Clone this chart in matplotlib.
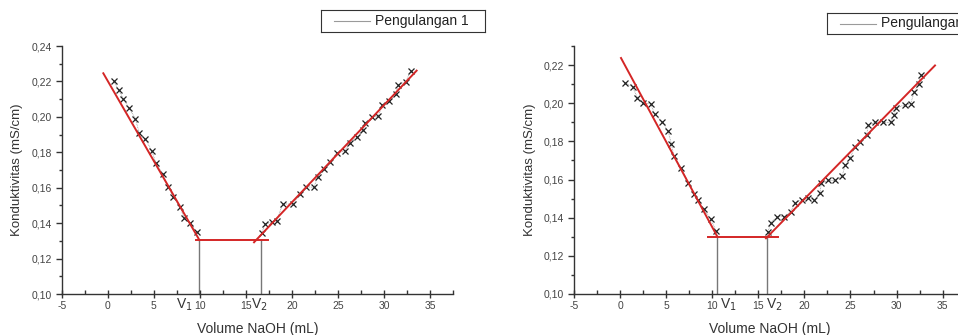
import matplotlib
matplotlib.use("Agg")
import matplotlib.pyplot as plt
from matplotlib.ticker import MultipleLocator, FuncFormatter

plt.rcParams['font.family'] = ['Liberation Sans', 'DejaVu Sans']
plt.rcParams['axes.unicode_minus'] = False

# Pengulangan 1
x1_down = [0.68, 1.19, 1.70, 2.28, 3.0, 3.43, 4.09, 4.77, 5.24, 5.97, 6.59, 7.13, 7.85, 8.32, 8.94, 9.66]
y1_down = [0.220, 0.2152, 0.210, 0.2052, 0.199, 0.1907, 0.1875, 0.181, 0.1738, 0.1677, 0.1602, 0.1546,
           0.1493, 0.1427, 0.1403, 0.1348]
x1_up = [16.72, 17.08, 17.80, 18.35, 19.0, 20.08, 20.88, 21.53, 22.4, 22.8, 23.49, 24.14, 24.86, 25.77,
         26.31, 27.04, 27.69, 27.94, 28.67, 29.39, 29.82, 30.58, 31.27, 31.56, 32.39, 32.9]
y1_up = [0.1342, 0.1395, 0.1405, 0.1414, 0.1508, 0.1508, 0.1565, 0.1606, 0.1602, 0.1662, 0.1704, 0.1747,
         0.1794, 0.181, 0.1854, 0.1884, 0.1926, 0.1967, 0.1997, 0.2005, 0.2067, 0.2091, 0.2129, 0.218,
         0.2199, 0.2261]
fit1_down = ([-0.48, 9.95], [0.2246, 0.1305])
fit1_flat = ([9.59, 17.37], [0.1305, 0.1305])
fit1_up = ([15.89, 33.55], [0.1292, 0.2261])
v1_pengulangan1 = 9.95
v2_pengulangan1 = 16.61

# Pengulangan 2
x2_down = [0.57, 1.37, 1.87, 2.52, 3.32, 3.75, 4.58, 5.23, 5.56, 5.85, 6.65, 7.40, 7.98, 8.45, 9.1, 9.83, 10.41]
y2_down = [0.2106, 0.2085, 0.203, 0.200, 0.1997, 0.1943, 0.1904, 0.1852, 0.1787, 0.1721, 0.166, 0.1584,
           0.1525, 0.1493, 0.1444, 0.1392, 0.1332]
x2_up = [16.05, 16.37, 17.06, 17.78, 18.54, 18.94, 19.74, 20.42, 21.08, 21.69, 21.84, 22.59, 23.35, 24.08,
         24.44, 24.95, 25.49, 26.03, 26.75, 26.94, 27.66, 28.49, 29.36, 29.72, 29.94, 30.88, 31.53, 31.89,
         32.40, 32.61]
y2_up = [0.1327, 0.1374, 0.1406, 0.1406, 0.1432, 0.1479, 0.1493, 0.1502, 0.1493, 0.1532, 0.1581, 0.1595,
         0.1595, 0.1616, 0.1677, 0.1712, 0.1773, 0.1799, 0.1834, 0.1887, 0.1899, 0.1899, 0.1899, 0.1939,
         0.1974, 0.1992, 0.1997, 0.2057, 0.2102, 0.2149]
fit2_down = ([0.10, 10.55], [0.2237, 0.1301])
fit2_flat = ([9.57, 17.17], [0.1301, 0.1301])
fit2_up = ([15.83, 34.17], [0.1292, 0.2198])
v1_pengulangan2 = 10.55
v2_pengulangan2 = 15.98

W, H = 958, 335
fig = plt.figure(figsize=(W / 100, H / 100), dpi=100)

comma = FuncFormatter(lambda v, p: ('%.2f' % v).replace('.', ','))
plain = FuncFormatter(lambda v, p: '%d' % round(v))


def panel(rect, ylim, segs, fits, v1, v2, label, v1_pos, v2_pos, leg_rect):
    ax = fig.add_axes(rect)
    for xs, ys in segs:
        ax.plot(xs, ys, color='#9a9a9a', lw=0.6, ls=(0, (1, 1)), marker='x', ms=4.5,
                mec='#222222', mew=0.9, zorder=2)
    for fx, fy in fits:
        ax.plot(fx, fy, color='#d42626', lw=1.4, zorder=3)
    yb = fits[1][1][0]
    ax.plot([v1, v1], [ylim[0], yb], color='#777777', lw=1.0, zorder=1)
    ax.plot([v2, v2], [ylim[0], yb], color='#777777', lw=1.0, zorder=1)
    ax.set_xlim(-5, 37.5)
    ax.set_ylim(*ylim)
    for s in ['top', 'right']:
        ax.spines[s].set_visible(False)
    for s in ['left', 'bottom']:
        ax.spines[s].set_color('#333333')
        ax.spines[s].set_linewidth(1.0)
    ax.xaxis.set_major_locator(MultipleLocator(5))
    ax.xaxis.set_minor_locator(MultipleLocator(2.5))
    ax.xaxis.set_major_formatter(plain)
    ax.yaxis.set_major_locator(MultipleLocator(0.02))
    ax.yaxis.set_minor_locator(MultipleLocator(0.01))
    ax.yaxis.set_major_formatter(comma)
    ax.tick_params(axis='x', which='major', direction='inout', length=6, width=1, colors='#333333',
                   labelsize=7.5, labelcolor='#444444', pad=2)
    ax.tick_params(axis='x', which='minor', direction='in', length=3, width=1, colors='#333333')
    ax.tick_params(axis='y', which='major', direction='out', length=4, width=1, colors='#333333',
                   labelsize=7.5, labelcolor='#444444', pad=3)
    ax.tick_params(axis='y', which='minor', direction='out', length=2.5, width=1, colors='#333333')
    ax.set_xlabel('Volume NaOH (mL)', fontsize=10, color='#333333', labelpad=8)
    ax.set_ylabel('Konduktivitas (mS/cm)', fontsize=9.5, color='#333333', labelpad=6)
    ax.text(v1_pos, -0.012, 'V$_1$', transform=ax.get_xaxis_transform(), ha='center', va='top',
            fontsize=10, color='#333333')
    ax.text(v2_pos, -0.012, 'V$_2$', transform=ax.get_xaxis_transform(), ha='center', va='top',
            fontsize=10, color='#333333')
    # legend box
    lax = fig.add_axes(leg_rect)
    lax.set_xlim(0, 1)
    lax.set_ylim(0, 1)
    lax.set_xticks([])
    lax.set_yticks([])
    for s in lax.spines.values():
        s.set_color('#333333')
        s.set_linewidth(0.8)
    lax.plot([0.08, 0.3], [0.5, 0.5], color='#9a9a9a', lw=0.8)
    lax.text(0.33, 0.5, label, fontsize=10, va='center', ha='left', color='#222222')
    return ax


fs = lambda x0, y0, x1, y1: [x0 / W, 1 - y1 / H, (x1 - x0) / W, (y1 - y0) / H]

panel(fs(61.7, 46, 453, 294), (0.10, 0.24), [(x1_down, y1_down), (x1_up, y1_up)],
      [fit1_down, fit1_flat, fit1_up], v1_pengulangan1, v2_pengulangan1, 'Pengulangan 1',
      8.3, 16.5, fs(321, 10, 485, 32))
panel(fs(574, 46, 965.7, 294), (0.10, 0.23), [(x2_down, y2_down), (x2_up, y2_up)],
      [fit2_down, fit2_flat, fit2_up], v1_pengulangan2, v2_pengulangan2, 'Pengulangan 2',
      11.7, 16.7, fs(827, 13, 991, 34))

fig.savefig('out.png', dpi=100)
